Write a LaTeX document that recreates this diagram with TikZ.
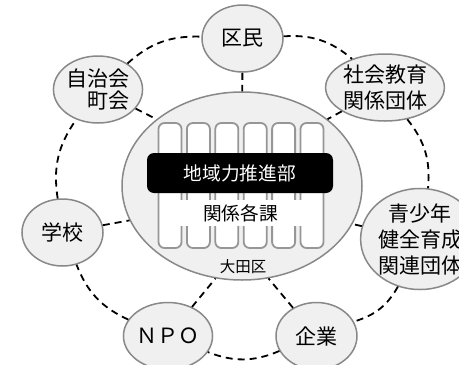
\documentclass[tikz,border=0pt]{standalone}
\usepackage{fontspec}
\setmainfont{Noto Sans CJK JP}
\usetikzlibrary{shapes.geometric}
\definecolor{ringfill}{RGB}{240,240,240}
\definecolor{ringline}{RGB}{136,136,136}
\definecolor{colline}{RGB}{150,150,150}
\tikzset{
  group/.style={ellipse, minimum width=81pt, minimum height=67pt, inner sep=0pt, fill=ringfill, draw=ringline, line width=1.5pt, font=\fontsize{21pt}{26pt}\selectfont, align=center},
  ward/.style={ellipse, minimum width=240pt, minimum height=188pt, inner sep=0pt, fill=ringfill, draw=ringline, line width=1.5pt},
  column/.style={rectangle, rounded corners=6pt, minimum width=23pt, minimum height=125pt, inner sep=0pt, fill=white, draw=colline, line width=1.8pt},
  headbar/.style={rectangle, rounded corners=7pt, minimum width=186pt, minimum height=40pt, inner sep=0pt, fill=black, text=white, font=\fontsize{18.7pt}{22pt}\selectfont},
  cover/.style={rectangle, minimum width=161pt, minimum height=26pt, inner sep=0pt, fill=white, font=\fontsize{18.7pt}{22pt}\selectfont},
  link/.style={dash pattern=on 7pt off 5pt, line width=1.8pt, color=black}
}
\begin{document}
\begin{tikzpicture}
\useasboundingbox (0pt,0pt) rectangle (459pt,-365pt);
\clip (0pt,0pt) rectangle (459pt,-365pt);
\node (ota) [ward] at (242pt,-186pt) {};
\foreach \x [count=\i] in {170,198.4,226.8,255.2,283.6,312}
  \node (col\i) [column] at (\x pt,-185.5pt) {};
\node (kakuka) [cover] at (240.5pt,-213pt) {関係各課};
\node (suishin) [headbar] at (240pt,-173pt) {地域力推進部};
\node (otaname) [font=\fontsize{15.5pt}{18pt}\selectfont] at (243pt,-267pt) {大田区};
\node (kumin) [group] at (242.5pt,-38.5pt) {区民};
\node (shakai) [group] at (385pt,-87.5pt) {社会教育\\関係団体};
\node (seishonen) [group] at (420pt,-239pt) {青少年\\健全育成\\関連団体};
\node (kigyo) [group] at (316.5pt,-336pt) {企業};
\node (npo) [group] at (168pt,-336pt) {ＮＰＯ};
\node (gakko) [group] at (62.5pt,-232.5pt) {学校};
\node (jichikai) [group, align=right] at (98pt,-89.5pt) {自治会\\[-4pt]町会};
\draw [link] (kumin) to[bend left=22] (shakai);
\draw [link] (shakai) to[bend left=22] (seishonen);
\draw [link] (seishonen) to[bend left=22] (kigyo);
\draw [link] (kigyo) to[bend left=22] (npo);
\draw [link] (npo) to[bend left=22] (gakko);
\draw [link] (gakko) to[bend left=22] (jichikai);
\draw [link] (jichikai) to[bend left=22] (kumin);
\draw [link] (kumin) -- (ota);
\draw [link] (shakai) -- (ota.38);
\draw [link] (seishonen) -- (ota.-19);
\draw [link] (kigyo) -- (ota.-74);
\draw [link] (npo) -- (ota.254);
\draw [link] (gakko) -- (ota.197);
\draw [link] (jichikai) -- (ota.142);
\end{tikzpicture}
\end{document}
